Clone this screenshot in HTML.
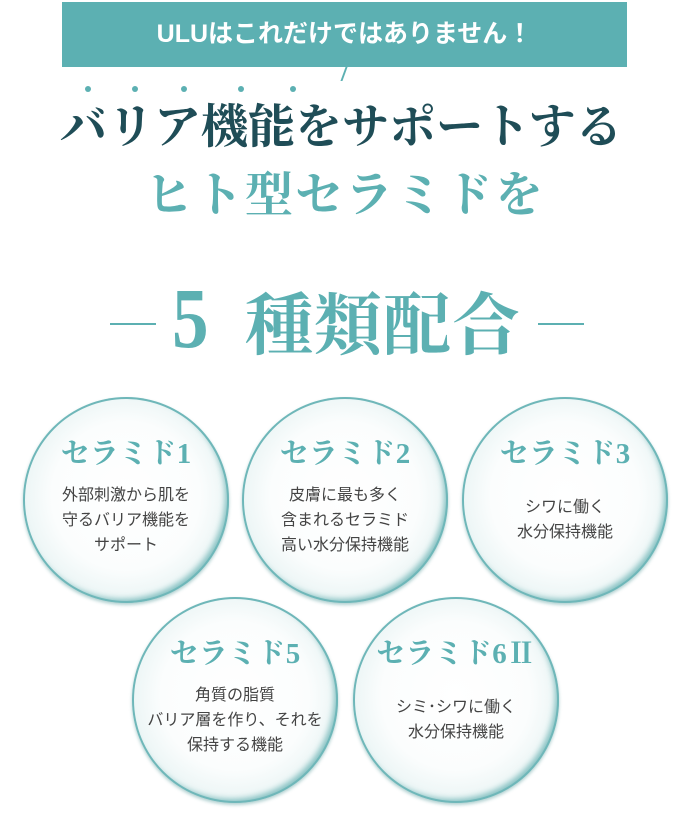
<!DOCTYPE html>
<html><head><meta charset="utf-8"><style>
body{margin:0;width:690px;height:813px;background:#fff;position:relative;overflow:hidden;font-family:"Liberation Sans","Noto Sans CJK JP",sans-serif}
.box{position:absolute;left:62px;top:2px;width:565px;height:65px;background:#5cb0b2;color:#fff;font-weight:bold;font-size:25px;text-align:center;line-height:65px}
.serif{font-family:"Liberation Serif","Noto Serif CJK JP","Noto Serif CJK SC",serif;font-weight:bold;position:absolute;white-space:nowrap}
.dot{position:absolute;width:6px;height:6px;border-radius:50%;background:#5cb0b2;top:86px}
.c{position:absolute;width:206px;height:206px;border-radius:50%;
background:radial-gradient(circle at 50% 48%,#fff 0%,#fbfdfd 50%,#edf6f6 68%,#d6ecec 82%,#b4dadb 92%,#8cc6c7 100%);
box-shadow:inset 0 0 0 2px #6fb7b9,inset -4px -4px 6px rgba(70,160,162,.6),0 2px 3px rgba(80,150,150,.45);text-align:center}
.c .t{font-family:"Liberation Serif","Noto Serif CJK JP",serif;font-weight:bold;color:#5cb0b2;font-size:29px;margin-top:36px;height:42px;line-height:42px}
.c .b{color:#444;font-size:16px;line-height:25px;margin-top:8px}
.ln{position:absolute;height:2px;background:#5cb0b2;top:323px;width:46px}
</style></head><body>
<div class="box">ULUはこれだけではありません！</div>
<div style="position:absolute;left:343px;top:67px;width:2px;height:14px;background:#5cb0b2;transform:skewX(-20deg)"></div>
<div class="dot" style="left:85px"></div><div class="dot" style="left:132px"></div><div class="dot" style="left:181px"></div><div class="dot" style="left:238px"></div><div class="dot" style="left:290px"></div>
<div class="serif" style="left:60px;top:100px;font-size:47px;color:#1f4d57;letter-spacing:0px;line-height:56px">バリア機能をサポートする</div>
<div class="serif" style="left:145px;top:168px;font-size:48px;color:#5cb0b2;letter-spacing:2px;line-height:56px">ヒト型セラミドを</div>
<div class="ln" style="left:110px"></div><div class="ln" style="left:538px"></div>
<div class="serif" style="left:172px;top:268px;font-size:86px;color:#5cb0b2;line-height:100px;transform:scaleX(0.85);transform-origin:left">5</div>
<div class="serif" style="left:245px;top:286px;font-size:68px;color:#5cb0b2;line-height:80px;letter-spacing:1px">種類配合</div>

<div class="c" style="left:23px;top:397px"><div class="t">セラミド1</div><div class="b">外部刺激から肌を<br>守るバリア機能を<br>サポート</div></div>
<div class="c" style="left:242px;top:397px"><div class="t">セラミド2</div><div class="b">皮膚に最も多く<br>含まれるセラミド<br>高い水分保持機能</div></div>
<div class="c" style="left:462px;top:397px"><div class="t">セラミド3</div><div class="b" style="margin-top:20px">シワに働く<br>水分保持機能</div></div>
<div class="c" style="left:132px;top:597px"><div class="t">セラミド5</div><div class="b">角質の脂質<br>バリア層を作り、それを<br>保持する機能</div></div>
<div class="c" style="left:353px;top:597px"><div class="t">セラミド6Ⅱ</div><div class="b" style="margin-top:20px">シミ･シワに働く<br>水分保持機能</div></div>
</body></html>
